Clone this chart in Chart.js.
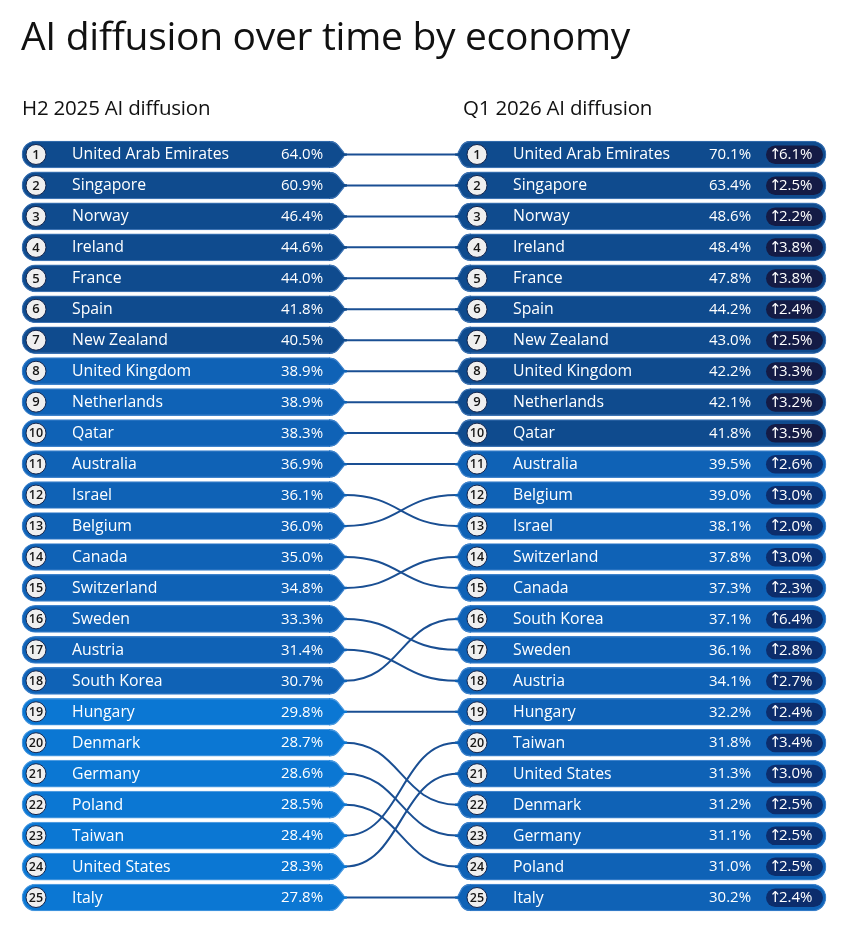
<!DOCTYPE html>
<html><head><meta charset="utf-8">
<script src="https://cdn.jsdelivr.net/npm/chart.js@4.4.1/dist/chart.umd.min.js"></script>
<style>
html,body{margin:0;padding:0;background:#fff;width:852px;height:936px;overflow:hidden;font-family:'Open Sans',sans-serif;color:#111;}
#title{position:absolute;left:21px;top:15px;font-size:39px;line-height:1;font-weight:500;white-space:nowrap;letter-spacing:-0.3px}
.hdr{position:absolute;top:97px;font-size:20.5px;line-height:1;font-weight:500;white-space:nowrap;letter-spacing:-0.2px}
#c{position:absolute;left:0;top:0}
</style></head>
<body>
<canvas id="c" width="852" height="936"></canvas>
<div id="title">AI diffusion over time by economy</div>
<div class="hdr" style="left:22px">H2 2025 AI diffusion</div>
<div class="hdr" style="left:463px">Q1 2026 AI diffusion</div>
<script>
// ---- data ----
const leftNames = ["United Arab Emirates","Singapore","Norway","Ireland","France","Spain","New Zealand","United Kingdom","Netherlands","Qatar","Australia","Israel","Belgium","Canada","Switzerland","Sweden","Austria","South Korea","Hungary","Denmark","Germany","Poland","Taiwan","United States","Italy"];
const leftValues = [64.0,60.9,46.4,44.6,44.0,41.8,40.5,38.9,38.9,38.3,36.9,36.1,36.0,35.0,34.8,33.3,31.4,30.7,29.8,28.7,28.6,28.5,28.4,28.3,27.8];
const rightNames = ["United Arab Emirates","Singapore","Norway","Ireland","France","Spain","New Zealand","United Kingdom","Netherlands","Qatar","Australia","Belgium","Israel","Switzerland","Canada","South Korea","Sweden","Austria","Hungary","Taiwan","United States","Denmark","Germany","Poland","Italy"];
const rightValues = [70.1,63.4,48.6,48.4,47.8,44.2,43.0,42.2,42.1,41.8,39.5,39.0,38.1,37.8,37.3,37.1,36.1,34.1,32.2,31.8,31.3,31.2,31.1,31.0,30.2];
const rightChanges = [6.1,2.5,2.2,3.8,3.8,2.4,2.5,3.3,3.2,3.5,2.6,3.0,2.0,3.0,2.3,6.4,2.8,2.7,2.4,3.4,3.0,2.5,2.5,2.5,2.4];
const ranks = leftNames.map((_, i) => String(i + 1));

// ---- style ----
const FONT = "'Open Sans', sans-serif";
function band(v){ return v >= 40 ? 0 : (v >= 30 ? 1 : 2); }
const FILL = ['#0f4b8e', '#0f62b6', '#0b77d3'];
const EDGE = ['#3d73b3', '#3f83cc', '#4e9be0'];
const BADGE = ['#141b45', '#0c2d6c', '#0c3f86'];
const LINE = '#1a4f93';

// layout (x in page pixels)
const L0 = 22, L1 = 330, LP = 347;   // left pill start, body end, chevron point
const R0 = 470, R1 = 826, RP = 455;  // right pill body start, end, chevron point

const rowPlugin = {
  id: 'rows',
  beforeDatasetsDraw(chart) {
    const ctx = chart.ctx, y = chart.scales.y;
    ctx.save();
    ctx.strokeStyle = LINE; ctx.lineWidth = 2;
    leftNames.forEach((n, i) => {
      const j = rightNames.indexOf(n);
      const y0 = y.getPixelForValue(i), y1 = y.getPixelForValue(j);
      const dx = RP - LP;
      ctx.beginPath();
      ctx.moveTo(LP - 2, y0);
      ctx.bezierCurveTo(LP + dx * 0.5, y0, RP - dx * 0.5, y1, RP + 2, y1);
      ctx.stroke();
    });
    ctx.restore();
  },
  afterDatasetsDraw(chart) {
    const ctx = chart.ctx;
    const mL = chart.getDatasetMeta(0).data, mR = chart.getDatasetMeta(1).data;
    ctx.save();
    // chevrons
    mL.forEach((b, i) => {
      const k = band(leftValues[i]);
      const h = b.height, t = b.y - h / 2, bt = b.y + h / 2, xe = b.x, cy = b.y;
      ctx.beginPath();
      ctx.moveTo(xe - 1, t);
      ctx.lineTo(xe, t);
      ctx.quadraticCurveTo(xe + 5, t, xe + 8, t + 4);
      ctx.lineTo(LP - 3, cy - 1.6);
      ctx.quadraticCurveTo(LP - 1, cy - 1.1, LP, cy - 1.1);
      ctx.lineTo(LP, cy + 1.1);
      ctx.quadraticCurveTo(LP - 1, cy + 1.1, LP - 3, cy + 1.6);
      ctx.lineTo(xe + 8, bt - 4);
      ctx.quadraticCurveTo(xe + 5, bt, xe, bt);
      ctx.lineTo(xe - 1, bt);
      ctx.closePath();
      ctx.fillStyle = FILL[k]; ctx.fill();
      ctx.strokeStyle = EDGE[k]; ctx.lineWidth = 1.2;
      ctx.beginPath();
      ctx.moveTo(xe - 0.5, t + 0.6); ctx.lineTo(xe, t + 0.6);
      ctx.quadraticCurveTo(xe + 5, t + 0.6, xe + 8, t + 4.4); ctx.lineTo(LP - 3, cy - 1.6);
      ctx.moveTo(xe - 0.5, bt - 0.6); ctx.lineTo(xe, bt - 0.6);
      ctx.quadraticCurveTo(xe + 5, bt - 0.6, xe + 8, bt - 4.4); ctx.lineTo(LP - 3, cy + 1.6);
      ctx.stroke();
    });
    mR.forEach((b, i) => {
      const k = band(rightValues[i]);
      const h = b.height, t = b.y - h / 2, bt = b.y + h / 2, xs = b.base, cy = b.y;
      ctx.beginPath();
      ctx.moveTo(xs + 1, t);
      ctx.lineTo(xs, t);
      ctx.quadraticCurveTo(xs - 5, t, xs - 8, t + 4);
      ctx.lineTo(RP + 3, cy - 1.6);
      ctx.quadraticCurveTo(RP + 1, cy - 1.1, RP, cy - 1.1);
      ctx.lineTo(RP, cy + 1.1);
      ctx.quadraticCurveTo(RP + 1, cy + 1.1, RP + 3, cy + 1.6);
      ctx.lineTo(xs - 8, bt - 4);
      ctx.quadraticCurveTo(xs - 5, bt, xs, bt);
      ctx.lineTo(xs + 1, bt);
      ctx.closePath();
      ctx.fillStyle = FILL[k]; ctx.fill();
      ctx.strokeStyle = EDGE[k]; ctx.lineWidth = 1.2;
      ctx.beginPath();
      ctx.moveTo(xs + 0.5, t + 0.6); ctx.lineTo(xs, t + 0.6);
      ctx.quadraticCurveTo(xs - 5, t + 0.6, xs - 8, t + 4.4); ctx.lineTo(RP + 3, cy - 1.6);
      ctx.moveTo(xs + 0.5, bt - 0.6); ctx.lineTo(xs, bt - 0.6);
      ctx.quadraticCurveTo(xs - 5, bt - 0.6, xs - 8, bt - 4.4); ctx.lineTo(RP + 3, cy + 1.6);
      ctx.stroke();
    });
    // texts
    ctx.textBaseline = 'middle';
    function rankCircle(cx, cy, txt) {
      ctx.beginPath(); ctx.arc(cx, cy, 10, 0, Math.PI * 2);
      ctx.fillStyle = '#efefef'; ctx.fill();
      ctx.strokeStyle = '#15264d'; ctx.lineWidth = 1; ctx.stroke();
      ctx.fillStyle = '#161616'; ctx.textAlign = 'center';
      ctx.font = (txt.length > 1 ? "600 12.5px " : "600 13px ") + FONT;
      ctx.fillText(txt, cx, cy + 0.5);
    }
    mL.forEach((b, i) => {
      const cy = b.y;
      rankCircle(36, cy, ranks[i]);
      ctx.fillStyle = '#ffffff'; ctx.textAlign = 'left';
      ctx.font = "400 15.8px " + FONT;
      ctx.fillText(leftNames[i], 72, cy + 0.5);
      ctx.font = "400 15px " + FONT;
      ctx.fillText(leftValues[i].toFixed(1) + '%', 281, cy + 0.5);
    });
    mR.forEach((b, i) => {
      const cy = b.y, k = band(rightValues[i]);
      rankCircle(477, cy, ranks[i]);
      ctx.fillStyle = '#ffffff'; ctx.textAlign = 'left';
      ctx.font = "400 15.8px " + FONT;
      ctx.fillText(rightNames[i], 513, cy + 0.5);
      ctx.font = "400 15px " + FONT;
      ctx.fillText(rightValues[i].toFixed(1) + '%', 709, cy + 0.5);
      // badge
      ctx.beginPath();
      ctx.roundRect(766, cy - 9, 57, 18.5, 9.25);
      ctx.fillStyle = BADGE[k]; ctx.fill();
      ctx.fillStyle = '#ffffff';
      ctx.font = "400 15px 'DejaVu Sans', sans-serif";
      ctx.fillText('\u2191', 769, cy + 0.5);
      ctx.font = "400 15px " + FONT;
      ctx.fillText(rightChanges[i].toFixed(1) + '%', 779, cy + 0.5);
    });
    ctx.restore();
  }
};

new Chart(document.getElementById('c'), {
  type: 'bar',
  data: {
    labels: ranks,
    datasets: [
      {
        data: leftValues.map(() => [L0, L1]),
        backgroundColor: leftValues.map(v => FILL[band(v)]),
        borderColor: leftValues.map(v => EDGE[band(v)]),
        borderWidth: {top: 1.2, bottom: 1.2, left: 1.2, right: 0},
        borderSkipped: false,
        borderRadius: {topLeft: 14, bottomLeft: 14, topRight: 0, bottomRight: 0},
        grouped: false, barThickness: 27
      },
      {
        data: rightValues.map(() => [R0, R1]),
        backgroundColor: rightValues.map(v => FILL[band(v)]),
        borderColor: rightValues.map(v => EDGE[band(v)]),
        borderWidth: {top: 1.2, bottom: 1.2, left: 0, right: 1.2},
        borderSkipped: false,
        borderRadius: {topLeft: 0, bottomLeft: 0, topRight: 14, bottomRight: 14},
        grouped: false, barThickness: 27
      }
    ]
  },
  options: {
    indexAxis: 'y',
    responsive: false,
    animation: false,
    devicePixelRatio: 1,
    layout: {padding: {top: 139, bottom: 23, left: 0, right: 0}},
    scales: {
      x: {type: 'linear', min: 0, max: 852, display: false},
      y: {type: 'category', display: false, offset: true, grid: {display: false}}
    },
    plugins: {legend: {display: false}, tooltip: {enabled: false}, title: {display: false}}
  },
  plugins: [rowPlugin]
});
</script>
</body></html>
